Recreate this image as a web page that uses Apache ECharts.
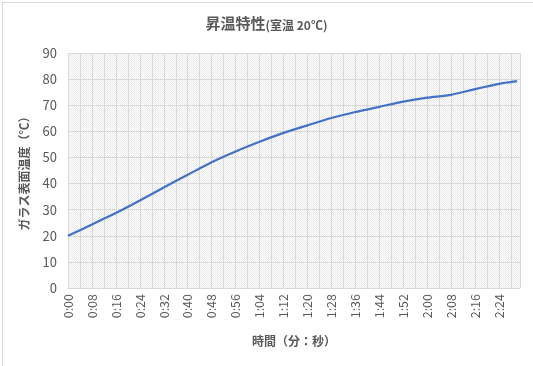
<!DOCTYPE html>
<html><head><meta charset="utf-8">
<script src="https://cdn.jsdelivr.net/npm/echarts@6/dist/echarts.min.js"></script>
<style>html,body{margin:0;padding:0;background:#fff}#c{width:533px;height:366px}</style>
</head><body><div id="c"></div>
<script>
// elapsed seconds and measured glass surface temperature (℃)
const seconds = [0, 8, 16, 24, 32, 40, 48, 56, 64, 72, 80, 88, 96, 104, 112, 120, 128, 136, 144, 150];
const temps   = [20.0, 24.3, 28.7, 33.5, 38.5, 43.4, 48.2, 52.3, 56.0, 59.4, 62.3, 65.1, 67.4, 69.4, 71.4, 72.9, 74.0, 76.2, 78.2, 79.2];
const titleMain = '昇温特性';
const titleSub = '(室温 20℃)';
const yName = 'ガラス表面温度（℃）';
const xName = '時間（分：秒）';

const FONT = '"Noto Sans CJK JP", "Noto Sans", sans-serif';
const TXT = '#595959';
const GRID = '#d9d9d9';

// fine dotted plot background pattern
const pc = document.createElement('canvas');
pc.width = 2; pc.height = 2;
const pctx = pc.getContext('2d');
pctx.fillStyle = '#ffffff'; pctx.fillRect(0, 0, 2, 2);
pctx.fillStyle = '#e9e9e9'; pctx.fillRect(0, 0, 1, 1); pctx.fillRect(1, 1, 1, 1);

function fmt(v) {
  if (v % 8 !== 0) return '';
  const m = Math.floor(v / 60), s = v % 60;
  return m + ':' + String(s).padStart(2, '0');
}

const chart = echarts.init(document.getElementById('c'), null, {renderer: 'canvas'});
chart.setOption({
  animation: false,
  backgroundColor: '#fff',
  title: {
    text: '{a|' + titleMain + '}{b|' + titleSub + '}',
    left: 'center', top: 11,
    textStyle: {
      rich: {
        a: {fontFamily: FONT, fontSize: 15, fontWeight: 'bold', color: TXT},
        b: {fontFamily: FONT, fontSize: 12, color: TXT, padding: [3, 0, 0, 0]}
      }
    }
  },
  graphic: [{
    type: 'rect', left: 0, top: 0, z: -1,
    shape: {x: 0, y: 0, width: 532, height: 365},
    style: {fill: 'none', stroke: '#d9d9d9', lineWidth: 1}
  }],
  grid: {
    left: 68, right: 13, top: 53, bottom: 78,
    show: true, borderWidth: 0,
    backgroundColor: {image: pc, repeat: 'repeat'}
  },
  xAxis: {
    type: 'value', min: 0, max: 151, interval: 8,
    name: xName, nameLocation: 'middle', nameGap: 47,
    nameTextStyle: {fontFamily: FONT, fontSize: 12, fontWeight: 'bold', color: TXT},
    axisLine: {show: true, lineStyle: {color: GRID, width: 1}},
    axisTick: {show: false},
    axisLabel: {rotate: 90, margin: 6, fontFamily: FONT, fontSize: 12.5, color: TXT, formatter: fmt, showMaxLabel: false},
    splitLine: {show: true, lineStyle: {color: GRID, width: 1}},
    minorTick: {show: false, splitNumber: 2},
    minorSplitLine: {show: true, lineStyle: {color: GRID, width: 1}}
  },
  yAxis: {
    type: 'value', min: 0, max: 90, interval: 10,
    name: yName, nameLocation: 'middle', nameGap: 38,
    nameTextStyle: {fontFamily: FONT, fontSize: 12, fontWeight: 'bold', color: TXT},
    axisLine: {show: false}, axisTick: {show: false},
    axisLabel: {margin: 11, fontFamily: FONT, fontSize: 13, color: TXT},
    splitLine: {show: true, lineStyle: {color: GRID, width: 1}}
  },
  series: [{
    type: 'line',
    data: seconds.map((t, i) => [t, temps[i]]),
    showSymbol: false,
    smooth: 0.2,
    lineStyle: {color: '#4472C4', width: 2.25},
    itemStyle: {color: '#4472C4'}
  }]
});
</script>
</body></html>
